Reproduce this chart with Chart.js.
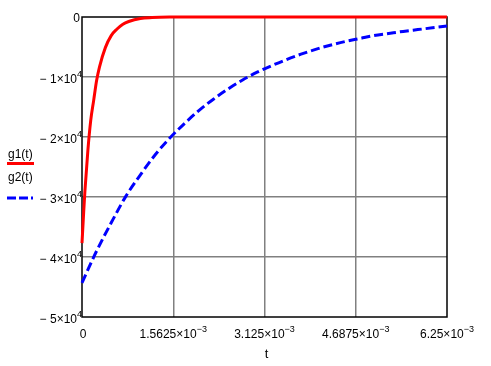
<!DOCTYPE html>
<html>
<head>
<meta charset="utf-8">
<script src="https://cdn.jsdelivr.net/npm/chart.js@4"></script>
<style>
  body { margin: 0; background: #fff; }
  canvas { display: block; }
</style>
</head>
<body>
<canvas id="plot" width="491" height="366"></canvas>
<script>
// values (t in seconds)
const t1 = [0, 0.025e-3, 0.05e-3, 0.1e-3, 0.15e-3, 0.2e-3, 0.25e-3, 0.3e-3, 0.4e-3, 0.5e-3, 0.6e-3, 0.7e-3, 0.8e-3, 1.0e-3, 1.2e-3, 1.5e-3, 2.0e-3, 6.25e-3];
const g1 = [-37700, -33200, -29000, -22300, -17200, -13900, -10600, -8300, -5100, -3100, -2000, -1200, -750, -250, -100, -20, 0, 0];

const t2 = [0, 0.25e-3, 0.5e-3, 0.75e-3, 1.0e-3, 1.25e-3, 1.5e-3, 1.75e-3, 2.0e-3, 2.25e-3, 2.5e-3, 2.75e-3, 3.0e-3, 3.25e-3, 3.5e-3, 3.75e-3, 4.0e-3, 4.25e-3, 4.5e-3, 4.75e-3, 5.0e-3, 5.25e-3, 5.5e-3, 5.75e-3, 6.0e-3, 6.25e-3];
const g2 = [-44300, -39000, -34300, -29900, -26300, -23000, -20200, -17800, -15600, -13700, -12000, -10500, -9200, -8100, -7100, -6200, -5400, -4700, -4100, -3600, -3100, -2750, -2400, -2100, -1800, -1500];

const xTicks = [0, 1.5625e-3, 3.125e-3, 4.6875e-3, 6.25e-3];
const yTicks = [-50000, -40000, -30000, -20000, -10000, 0];

const seriesNames = ['g1(t)', 'g2(t)'];
const xTitle = 't';

const FONT = '"Liberation Sans", Arial, sans-serif';

function pts(xs, ys) {
    return xs.map((x, i) => ({ x: x, y: ys[i] }));
}

// text with a raised exponent
function drawSup(ctx, main, sup, x, base, align) {
    ctx.font = '12px ' + FONT;
    let wm = ctx.measureText(main).width;
    ctx.font = '9px ' + FONT;
    let ws = sup ? ctx.measureText(sup).width : 0;
    let w = wm + ws;
    let x0 = x;
    if (align === 'right') x0 = x - w;
    if (align === 'center') x0 = x - w / 2;
    ctx.textAlign = 'left';
    ctx.textBaseline = 'alphabetic';
    ctx.fillStyle = '#000';
    ctx.font = '12px ' + FONT;
    ctx.fillText(main, x0, base);
    if (sup) {
        ctx.font = '9px ' + FONT;
        ctx.fillText(sup, x0 + wm, base - 6);
    }
}

const framePlugin = {
    id: 'frame',
    beforeDatasetsDraw(chart) {
        const a = chart.chartArea;
        const ctx = chart.ctx;
        ctx.save();
        ctx.strokeStyle = '#000';
        ctx.lineWidth = 1.5;
        ctx.strokeRect(a.left, a.top, a.right - a.left, a.bottom - a.top);
        ctx.restore();
    },
    afterDraw(chart) {
        const ctx = chart.ctx;
        const xs = chart.scales.x;
        const ys = chart.scales.y;
        ctx.save();
        // y tick labels
        ys.ticks.forEach(tk => {
            const py = ys.getPixelForValue(tk.value);
            if (tk.value === 0) {
                drawSup(ctx, '0', '', 80, py + 4.5, 'right');
            } else {
                drawSup(ctx, '\u2212 ' + (-tk.value / 1e4) + '\u00d710', '4', 82, py + 6, 'right');
            }
        });
        // x tick labels
        xs.ticks.forEach(tk => {
            const px = xs.getPixelForValue(tk.value);
            if (tk.value === 0) {
                drawSup(ctx, '0', '', px + 1, 338, 'center');
            } else {
                const m = Number((tk.value * 1e3).toFixed(4)).toString();
                drawSup(ctx, m + '\u00d710', '\u22123', px, 338, 'center');
            }
        });
        // axis title
        ctx.font = '13px ' + FONT;
        ctx.textAlign = 'center';
        ctx.fillText(xTitle, (chart.chartArea.left + chart.chartArea.right) / 2 + 2, 358);

        // legend at the left
        ctx.textAlign = 'left';
        ctx.font = '12px ' + FONT;
        ctx.fillText(seriesNames[0], 8, 158);
        ctx.fillText(seriesNames[1], 8, 181);
        ctx.lineWidth = 3;
        ctx.strokeStyle = '#ff0000';
        ctx.beginPath();
        ctx.moveTo(7, 163.5);
        ctx.lineTo(34, 163.5);
        ctx.stroke();
        ctx.strokeStyle = '#0000ff';
        ctx.setLineDash([9, 3]);
        ctx.beginPath();
        ctx.moveTo(7, 198);
        ctx.lineTo(33, 198);
        ctx.stroke();
        ctx.restore();
    }
};

const gridColor = ctx => {
    const t = ctx.tick;
    if (!t) return '#808080';
    if (ctx.index === 0 || ctx.index === ctx.chart.scales[ctx.scale.id].ticks.length - 1) return 'rgba(0,0,0,0)';
    return '#808080';
};

new Chart(document.getElementById('plot').getContext('2d'), {
    type: 'line',
    data: {
        datasets: [{
            label: seriesNames[0],
            data: pts(t1, g1),
            borderColor: '#ff0000',
            borderWidth: 3,
            pointRadius: 0,
            fill: false,
            cubicInterpolationMode: 'monotone',
            clip: false
        }, {
            label: seriesNames[1],
            data: pts(t2, g2),
            borderColor: '#0000ff',
            borderWidth: 3,
            borderDash: [9, 4],
            pointRadius: 0,
            fill: false,
            cubicInterpolationMode: 'monotone',
            clip: false
        }]
    },
    options: {
        responsive: false,
        animation: false,
        devicePixelRatio: 1,
        layout: { padding: { left: 82, top: 17, right: 44, bottom: 49 } },
        plugins: { legend: { display: false }, tooltip: { enabled: false } },
        scales: {
            x: {
                type: 'linear',
                min: 0,
                max: 6.25e-3,
                afterBuildTicks: s => { s.ticks = xTicks.map(v => ({ value: v })); },
                afterFit: s => { s.height = 0; },
                ticks: { display: false },
                grid: { color: gridColor, lineWidth: 1.5, drawTicks: false },
                border: { display: false }
            },
            y: {
                type: 'linear',
                min: -50000,
                max: 0,
                afterBuildTicks: s => { s.ticks = yTicks.map(v => ({ value: v })); },
                afterFit: s => { s.width = 0; },
                ticks: { display: false },
                grid: { color: gridColor, lineWidth: 1.5, drawTicks: false },
                border: { display: false }
            }
        }
    },
    plugins: [framePlugin]
});
</script>
</body>
</html>
